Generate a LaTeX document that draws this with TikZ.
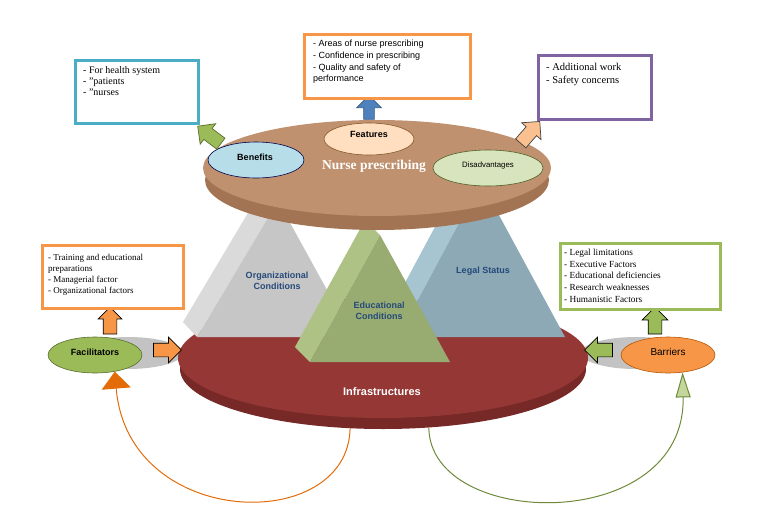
\documentclass[tikz,border=0pt]{standalone}
\usepackage{fontspec}
\setmainfont{Liberation Serif}
\setsansfont{Liberation Sans}
\usetikzlibrary{shapes.arrows,shapes.geometric,arrows.meta}
\definecolor{brtop}{HTML}{C0916E}
\definecolor{brside}{HTML}{A37453}
\definecolor{redtop}{HTML}{953735}
\definecolor{redside}{HTML}{762927}
\definecolor{grfront}{HTML}{C6C6C6}
\definecolor{grstrip}{HTML}{DADADA}
\definecolor{blfront}{HTML}{8CA9B5}
\definecolor{blstrip}{HTML}{A6C5D1}
\definecolor{gnfront}{HTML}{98AC72}
\definecolor{gnstrip}{HTML}{AEC285}
\definecolor{lblue}{HTML}{254A7A}
\definecolor{cteal}{HTML}{4BACC6}
\definecolor{corange}{HTML}{F79646}
\definecolor{cpurple}{HTML}{8064A2}
\definecolor{cgreen}{HTML}{9BBB59}
\definecolor{cpeach}{HTML}{FAC090}
\definecolor{cblue}{HTML}{4F81BD}
\definecolor{darkor}{HTML}{E36C09}
\definecolor{olive}{HTML}{6E8A3A}
\definecolor{lgreen}{HTML}{C3D69B}
\definecolor{shadowg}{HTML}{C3C3C3}
\begin{document}
\begin{tikzpicture}[x=1pt,y=-1pt,
  box/.style={draw, line width=2.6pt, fill=white, anchor=north west, inner sep=0pt},
  boxtext/.style={anchor=north west, inner sep=0pt, align=left},
  oval/.style={ellipse, inner sep=0pt, line width=0.6pt},
  barrow/.style={single arrow, inner sep=0pt, minimum width=0pt, single arrow head extend=6pt,
                 single arrow head indent=0pt, line width=0.7pt, draw},
  pyrlabel/.style={font=\sffamily\bfseries\fontsize{9}{11.5}\selectfont, text=lblue, align=center, inner sep=0pt},
]
\useasboundingbox (0,0) rectangle (760,509);

% ---------- reference shapes for the curves
\node[ellipse, minimum width=406pt, minimum height=120pt, inner sep=0pt] (infraside) at (383,369) {};
\node[oval, minimum width=94pt, minimum height=36pt] (facil) at (95,355) {};
\node[oval, minimum width=94pt, minimum height=36pt] (barr) at (668,355) {};

\draw[darkor, line width=1pt, -{Triangle[length=17pt,width=29pt,fill=darkor]}]
  (infraside.241) .. controls (348,535) and (128,530) .. (facil.-40);
\draw[olive, line width=1pt, -{Triangle[length=25pt,width=15pt,fill=lgreen]}]
  (infraside.-52) .. controls (430,530) and (686,535) .. (barr.-50);

% ---------- shadows
\fill[shadowg] (128,353) ellipse [x radius=55pt, y radius=16pt];
\fill[shadowg] (636,353) ellipse [x radius=55pt, y radius=16pt];
\node[oval, fill=cgreen, draw=olive!80!black, minimum width=94pt, minimum height=36pt] (facil2) at (95,355) {};
\node[oval, fill=corange, draw=darkor!80!black, minimum width=94pt, minimum height=36pt] (barr2) at (668,355) {};

% ---------- bottom platter
\node[ellipse, minimum width=406pt, minimum height=120pt, inner sep=0pt, fill=redside] (infraside2) at (383,369) {};
\node[ellipse, minimum width=410pt, minimum height=120pt, inner sep=0pt, fill=redtop] (infra) at (383,358) {};
\node[font=\sffamily\bfseries\fontsize{11}{13}\selectfont, text=white, inner sep=0pt] (infratext) at (382,392) {Infrastructures};

% ---------- pyramids
\fill[grstrip] (183,322) -- (197,337) -- (278,201) -- (264,186) -- cycle;
\fill[grfront] (197,337) -- (353,337) -- (278,201) -- cycle;
\fill[blstrip] (384,322) -- (398,337) -- (481,182) -- (467,167) -- cycle;
\fill[blfront] (398,337) -- (565,337) -- (481,182) -- cycle;
\fill[gnstrip] (295,347) -- (310,362) -- (380,235) -- (365,220) -- cycle;
\fill[gnfront] (310,362) -- (450,362) -- (380,235) -- cycle;
\node[pyrlabel] (orgl) at (277,281) {Organizational\\Conditions};
\node[pyrlabel] (legl) at (483,271) {Legal Status};
\node[pyrlabel] (edul) at (379,311) {Educational\\Conditions};

% ---------- top platter
\node[ellipse, minimum width=344pt, minimum height=100pt, inner sep=0pt, fill=brside] (npside) at (377,180) {};
\node[ellipse, minimum width=348pt, minimum height=96pt, inner sep=0pt, fill=brtop] (np) at (377,168) {};
\node[font=\rmfamily\bfseries\fontsize{13.5}{15}\selectfont, text=white, inner sep=0pt] (nptext) at (374,166) {Nurse prescribing};

% ---------- ellipses on platter
\node[oval, fill=orange!25!white, draw=brown!70!black, minimum width=90pt, minimum height=32pt] (feat) at (369,139) {};
\node[font=\sffamily\bfseries\fontsize{9}{11}\selectfont, inner sep=0pt] (feattext) at (369,134) {Features};
\node[oval, fill=cteal!40!white, draw=blue!30!black, minimum width=96pt, minimum height=36pt] (ben) at (256,160) {};
\node[font=\sffamily\bfseries\fontsize{9}{11}\selectfont, inner sep=0pt] (bentext) at (255,157) {Benefits};
\node[oval, fill=cgreen!40!white, draw=olive!70!black, minimum width=110pt, minimum height=36pt] (dis) at (488,168) {};
\node[font=\sffamily\fontsize{7.8}{9}\selectfont, inner sep=0pt] (distext) at (488,165) {Disadvantages};

% ---------- facilitators / barriers texts
\node[font=\sffamily\bfseries\fontsize{9}{11}\selectfont, inner sep=0pt] (faciltext) at (95,352) {Facilitators};
\node[font=\sffamily\fontsize{10}{12}\selectfont, inner sep=0pt] (barrtext) at (668,352) {Barriers};

% ---------- block arrows
\node[barrow, fill=cblue, draw=cblue!70!black, rotate=90, minimum height=24pt, inner ysep=5pt, single arrow head extend=7pt] (farr) at (369,110) {};
\node[barrow, fill=cgreen, draw=olive!80!black, rotate=143, minimum height=29pt, inner ysep=6.5pt, single arrow head extend=6pt] (barr1) at (212,137) {};
\node[barrow, fill=cpeach, draw=black!75, rotate=49, minimum height=29pt, inner ysep=6.5pt, single arrow head extend=6pt] (darr) at (528,135) {};
\node[barrow, fill=corange, draw=black, rotate=90, minimum height=27pt, inner ysep=6.5pt, single arrow head extend=5pt] (fup) at (110,324) {};
\node[barrow, fill=corange, draw=black, rotate=0, minimum height=28pt, inner ysep=6.5pt, single arrow head extend=6pt] (fright) at (164,350) {};
\node[barrow, fill=cgreen, draw=black, rotate=90, minimum height=27pt, inner ysep=6.5pt, single arrow head extend=6pt] (bup) at (655,324) {};
\node[barrow, fill=cgreen, draw=black, rotate=180, minimum height=28pt, inner ysep=6.5pt, single arrow head extend=6pt] (bleft) at (602,350) {};

% ---------- boxes
\node[box, draw=cteal, minimum width=123pt, minimum height=63pt] (benbox) at (74,59) {};
\node[boxtext, font=\rmfamily\fontsize{10}{11.3}\selectfont] (benboxt) at (83,66) {- For health system\\- "patients\\- "nurses};

\node[box, draw=corange, minimum width=166pt, minimum height=64pt] (featbox) at (303,33) {};
\node[boxtext, font=\sffamily\fontsize{9}{11.7}\selectfont] (featboxt) at (313,40) {- Areas of nurse prescribing\\- Confidence in prescribing\\- Quality and safety of\\performance};

\node[box, draw=cpurple, minimum width=113pt, minimum height=64pt] (disbox) at (537,54) {};
\node[boxtext, font=\rmfamily\fontsize{10.5}{13}\selectfont] (disboxt) at (546,63) {- Additional work\\- Safety concerns};

\node[box, draw=corange, minimum width=141pt, minimum height=63pt] (facbox) at (41,244) {};
\node[boxtext, font=\rmfamily\fontsize{9}{11}\selectfont] (facboxt) at (48,254) {- Training and educational\\preparations\\- Managerial factor\\- Organizational factors};

\node[box, draw=cgreen, minimum width=160pt, minimum height=66pt] (barbox) at (559,242) {};
\node[boxtext, font=\rmfamily\fontsize{9.3}{11.6}\selectfont] (barboxt) at (564,249) {- Legal limitations\\- Executive Factors\\- Educational deficiencies\\- Research weaknesses\\- Humanistic Factors};
\end{tikzpicture}
\end{document}
